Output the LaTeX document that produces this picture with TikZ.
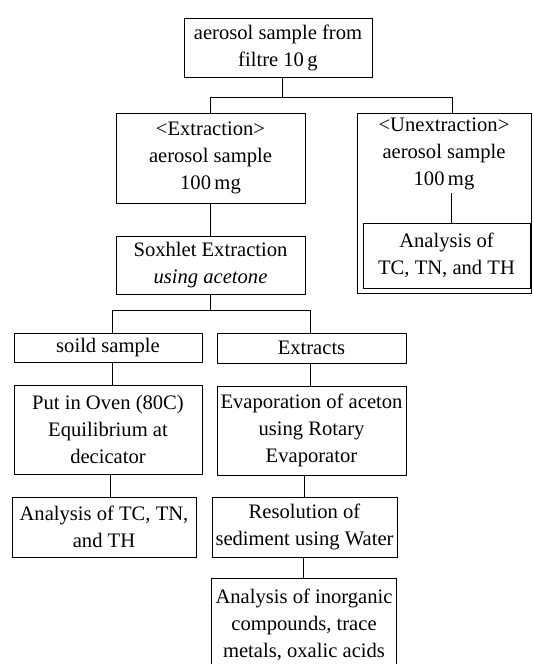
\documentclass[tikz,border=0pt]{standalone}
\usepackage{fontspec}
\setmainfont{Liberation Serif}
\begin{document}
\begin{tikzpicture}[x=1pt,y=-1pt,
  every node/.style={font=\fontsize{20.6}{27}\selectfont, align=center, inner sep=0pt},
  boxst/.style={draw, line width=0.8pt, minimum width=#1},
  conn/.style={line width=0.8pt}
]
\useasboundingbox (0,0) rectangle (533,664);
% top
\node[boxst=188, minimum height=59] (top) at (278,47.5) {aerosol sample from\\filtre 10\,g};
% extraction branch
\node[boxst=189, minimum height=90] (extr) at (210.5,158) {<Extraction>\\aerosol sample\\100\,mg};
\node[boxst=189, minimum height=58] (soxh) at (210.5,265) {Soxhlet Extraction\\\textit{using acetone}};
% unextraction
\node (unext) at (444,154) {<Unextraction>\\aerosol sample\\100\,mg};
\coordinate (unextNW) at (357,113);
\coordinate (unextSE) at (531,293);
\draw[conn] (unextNW) rectangle (unextSE);
\node[boxst=167, minimum height=65] (anaU) at (446.5,255.5) {Analysis of\\TC, TN, and TH};
% second level
\node[boxst=188, minimum height=29] (soild) at (108,347.5) {soild sample};
\node[boxst=189, minimum height=30] (extc) at (311.5,348) {Extracts};
\node[boxst=188, minimum height=89] (oven) at (108,429.5) {Put in Oven (80C)\\Equilibrium at\\decicator};
\node[boxst=189, minimum height=89] (evap) at (311.5,430.5) {Evaporation of aceton\\using Rotary\\Evaporator};
\node[boxst=184, minimum height=60] (anaL) at (104,527) {Analysis of TC, TN,\\and TH};
\node[boxst=185, minimum height=60] (resol) at (304.5,527) {Resolution of\\sediment using Water};
\node[minimum width=184, minimum height=91] (final) at (304,624.5) {Analysis of inorganic\\compounds, trace\\metals, oxalic acids};
\draw[conn] (final.south west) -- (final.north west) -- (final.north east) -- (final.south east);
% connectors
\coordinate (j1) at (282,97);
\draw[conn] (top.south -| j1) -- (j1);
\draw[conn] (extr.north) -- (extr.north |- j1) -- (452,97) coordinate (j1r) -- (j1r |- unextNW);
\draw[conn] (extr.south) -- (soxh.north);
\draw[conn] (unext.south -| 451,0) ++(0,3) -- (451,0 |- anaU.north);
\coordinate (j2) at (210,310);
\draw[conn] (soxh.south -| j2) -- (j2);
\draw[conn] (112,333 |- soild.north) -- (112,310) -- (310,310) -- (310,0 |- extc.north);
\draw[conn] (112,0 |- soild.south) -- (112,0 |- oven.north);
\draw[conn] (310,0 |- extc.south) -- (310,0 |- evap.north);
\draw[conn] (110,0 |- oven.south) -- (110,0 |- anaL.north);
\draw[conn] (resol.north |- evap.south) -- (resol.north);
\draw[conn] (resol.south -| 303,0) -- (303,0 |- final.north);
\end{tikzpicture}
\end{document}
